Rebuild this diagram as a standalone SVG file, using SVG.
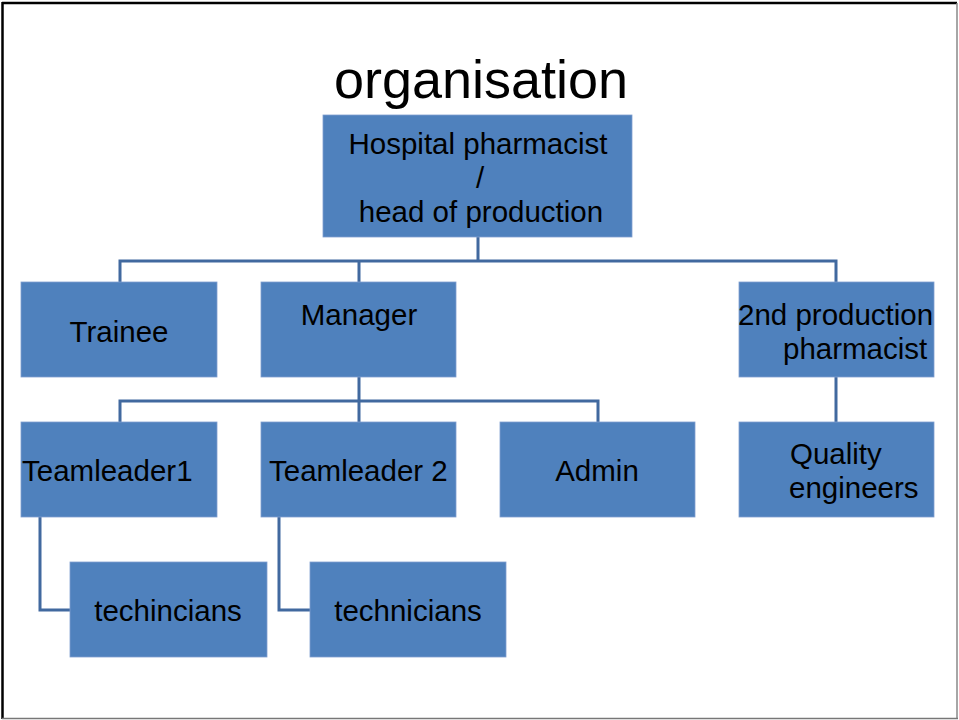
<svg xmlns="http://www.w3.org/2000/svg" width="959" height="720" viewBox="0 0 959 720">
<style>
.box{fill:#4f81bd;stroke:#7f9fcf;stroke-width:0.8}
.t{font-family:"Liberation Sans",Arial,sans-serif;font-size:29.5px;fill:#000}
.c{text-anchor:middle}
.ln{fill:none;stroke:#41699f;stroke-width:3}
</style>
<rect x="0" y="0" width="959" height="720" fill="#fff"/>
<g id="frame">
<line x1="2" y1="3" x2="957" y2="3" stroke="#000" stroke-width="2.5"/>
<line x1="2.5" y1="2" x2="2.5" y2="719" stroke="#000" stroke-width="2.5"/>
<line x1="957" y1="3" x2="957" y2="719" stroke="#888" stroke-width="1.5"/>
<line x1="2" y1="718.5" x2="958" y2="718.5" stroke="#777" stroke-width="1.5"/>
</g>
<text id="title" x="481" y="98" font-family="Liberation Sans, Arial, sans-serif" font-size="54" text-anchor="middle">organisation</text>
<g id="connectors">
<path class="ln" d="M478 237 V261 M120 282 V261 H836 V282 M359 261 V282"/>
<path class="ln" d="M359 377 V401 M120 422 V401 H598 V422 M359 401 V422"/>
<path class="ln" d="M836 377 V422"/>
<path class="ln" d="M40 517 V610 H70"/>
<path class="ln" d="M279 517 V610 H310"/>
</g>
<g id="head">
<rect class="box" x="323" y="115" width="309" height="122"/>
<text class="t c" x="478" y="154">Hospital pharmacist</text>
<text class="t c" x="480" y="188">/</text>
<text class="t c" x="481" y="222">head of production</text>
</g>
<g id="trainee">
<rect class="box" x="21" y="282" width="196" height="95"/>
<text class="t c" x="119" y="342">Trainee</text>
</g>
<g id="manager">
<rect class="box" x="261" y="282" width="195" height="95"/>
<text class="t c" x="359" y="325">Manager</text>
</g>
<g id="second">
<rect class="box" x="739" y="282" width="195" height="95"/>
<text class="t" x="738" y="325">2nd production</text>
<text class="t" x="783" y="359">pharmacist</text>
</g>
<g id="teamleader1">
<rect class="box" x="21" y="422" width="196" height="95"/>
<text class="t" x="22" y="481">Teamleader1</text>
</g>
<g id="teamleader2">
<rect class="box" x="261" y="422" width="195" height="95"/>
<text class="t" x="269" y="481">Teamleader 2</text>
</g>
<g id="admin">
<rect class="box" x="500" y="422" width="195" height="95"/>
<text class="t c" x="597" y="481">Admin</text>
</g>
<g id="quality">
<rect class="box" x="739" y="422" width="195" height="95"/>
<text class="t" x="790" y="464">Quality</text>
<text class="t" x="789" y="498">engineers</text>
</g>
<g id="techincians">
<rect class="box" x="70" y="562" width="197" height="95"/>
<text class="t c" x="168" y="621">techincians</text>
</g>
<g id="technicians">
<rect class="box" x="310" y="562" width="196" height="95"/>
<text class="t c" x="408" y="621">technicians</text>
</g>
</svg>
